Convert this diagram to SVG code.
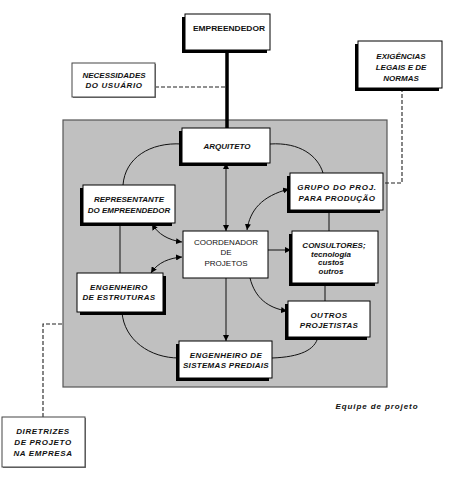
<svg xmlns="http://www.w3.org/2000/svg" width="455" height="478" viewBox="0 0 455 478">
<defs>
<style>
.bx{fill:#fff;stroke:#000;stroke-width:1}
.sh{fill:#000}
.lt{fill:#fff;stroke:#444;stroke-width:1}
.t{font-family:"Liberation Sans",Arial,sans-serif;font-weight:bold;font-style:italic;font-size:8px;fill:#111;text-anchor:middle}
.r{font-family:"Liberation Sans",Arial,sans-serif;font-size:8px;fill:#111;text-anchor:middle}
.ln{fill:none;stroke:#111;stroke-width:1}
.ds{fill:none;stroke:#222;stroke-width:1.1;stroke-dasharray:4,2}
</style>
<marker id="ah" markerWidth="6" markerHeight="6" refX="6" refY="3" orient="auto-start-reverse" markerUnits="userSpaceOnUse">
<path d="M0,0 L6,3 L0,6 z" fill="#000"/>
</marker>
</defs>
<rect width="455" height="478" fill="#fff"/>
<rect x="63" y="120" width="324" height="267" fill="#c0c0c0" stroke="#555" stroke-width="1.2"/>

<g id="connectors">
<path d="M227,50 V128" stroke="#000" stroke-width="3.5" fill="none"/>
<path class="ds" d="M155,87 H225"/>
<path class="ds" d="M402,88 V183 H385"/>
<path class="ds" d="M43,417 V324 H63"/>
<path class="ln" d="M226,163 V231" marker-start="url(#ah)" marker-end="url(#ah)"/>
<path class="ln" d="M182,144 C150,142 125,158 123,185"/>
<path class="ln" d="M270,144 C300,142 318,156 323,173"/>
<path class="ln" d="M120,223 V273"/>
<path class="ln" d="M122,312 C124,340 150,358 179,358"/>
<path class="ln" d="M272,358 C300,357 315,350 318,337"/>
<path class="ln" d="M325,283 V301"/>
<path class="ln" d="M329,210 V231"/>
<path class="ln" d="M226,278 V341" marker-end="url(#ah)"/>
<path class="ln" d="M268,250 H291" marker-end="url(#ah)"/>
<path class="ln" d="M250,278 C255,298 268,308 287,311" marker-end="url(#ah)"/>
<path class="ln" d="M247,230 C250,210 262,196 289,189" marker-start="url(#ah)" marker-end="url(#ah)"/>
<path class="ln" d="M152,224 C158,234 168,240 182,242" marker-start="url(#ah)" marker-end="url(#ah)"/>
<path class="ln" d="M182,257 C170,258 158,262 151,273" marker-start="url(#ah)" marker-end="url(#ah)"/>
</g>

<g id="empreendedor">
<rect class="sh" x="182" y="17" width="85" height="36"/>
<rect class="bx" x="185" y="14" width="85" height="36"/>
<text class="r" x="229" y="31" font-size="10" font-weight="bold" textLength="72" lengthAdjust="spacingAndGlyphs">EMPREENDEDOR</text>
</g>

<g id="necessidades">
<rect x="73" y="64" width="83" height="34" fill="#777"/>
<rect class="lt" x="72" y="63" width="83" height="34"/>
<text class="t" x="114" y="78">NECESSIDADES</text>
<text class="t" x="114" y="88" letter-spacing="0.6">DO USUÁRIO</text>
</g>

<g id="exigencias">
<rect class="sh" x="355" y="44" width="84" height="47"/>
<rect class="bx" x="358" y="41" width="84" height="47"/>
<text class="t" x="401" y="59" font-size="9.5">EXIGÊNCIAS</text>
<text class="t" x="401" y="70" font-size="9.5">LEGAIS E DE</text>
<text class="t" x="401" y="81" font-size="9.5">NORMAS</text>
</g>

<g id="arquiteto">
<rect class="sh" x="179" y="131" width="88" height="35"/>
<rect class="bx" x="182" y="128" width="88" height="35"/>
<text class="t" x="227" y="149">ARQUITETO</text>
</g>

<g id="grupo">
<rect class="sh" x="287" y="176" width="93" height="37"/>
<rect class="bx" x="290" y="173" width="93" height="37"/>
<text class="t" x="337" y="190" letter-spacing="0.7">GRUPO DO PROJ.</text>
<text class="t" x="337" y="201" letter-spacing="0.5">PARA PRODUÇÃO</text>
</g>

<g id="representante">
<rect class="sh" x="80" y="188" width="92" height="38"/>
<rect class="bx" x="83" y="185" width="92" height="38"/>
<text class="t" x="129" y="202">REPRESENTANTE</text>
<text class="t" x="129" y="213">DO EMPREENDEDOR</text>
</g>

<g id="coordenador">
<rect class="bx" x="183" y="231" width="85" height="47"/>
<text class="r" x="226" y="245" font-size="8">COORDENADOR</text>
<text class="r" x="226" y="255" font-size="9.5">DE</text>
<text class="r" x="226" y="266" font-size="9">PROJETOS</text>
</g>

<g id="consultores">
<rect class="sh" x="289" y="234" width="86" height="52"/>
<rect class="bx" x="292" y="231" width="86" height="52"/>
<text class="t" x="334" y="248" font-size="8.5">CONSULTORES;</text>
<text class="t" x="331" y="257" font-size="8.5">tecnologia</text>
<text class="t" x="331" y="265" font-size="8.5">custos</text>
<text class="t" x="331" y="274" font-size="8.5">outros</text>
</g>

<g id="estruturas">
<rect class="sh" x="80" y="276" width="86" height="39"/>
<rect class="bx" x="77" y="273" width="86" height="39"/>
<text class="t" x="119" y="290" letter-spacing="0.4">ENGENHEIRO</text>
<text class="t" x="119" y="300" letter-spacing="0.4">DE ESTRUTURAS</text>
</g>

<g id="outros">
<rect class="sh" x="285" y="304" width="82" height="36"/>
<rect class="bx" x="288" y="301" width="82" height="36"/>
<text class="t" x="329" y="318" letter-spacing="0.5">OUTROS</text>
<text class="t" x="329" y="328" letter-spacing="0.3">PROJETISTAS</text>
</g>

<g id="sistemas">
<rect class="sh" x="176" y="344" width="93" height="37"/>
<rect class="bx" x="179" y="341" width="93" height="37"/>
<text class="t" x="226" y="358" letter-spacing="0.4">ENGENHEIRO DE</text>
<text class="t" x="226" y="368" letter-spacing="0.3">SISTEMAS PREDIAIS</text>
</g>

<text class="t" x="377" y="409" font-size="11.5" letter-spacing="0.9">Equipe de projeto</text>

<g id="diretrizes">
<rect x="3" y="418" width="83" height="50" fill="#777"/>
<rect class="lt" x="2" y="417" width="83" height="50"/>
<text class="t" x="43" y="434" font-size="8.5" letter-spacing="0.6">DIRETRIZES</text>
<text class="t" x="43" y="445" font-size="8.5" letter-spacing="0.6">DE PROJETO</text>
<text class="t" x="43" y="456" font-size="8.5" letter-spacing="0.6">NA EMPRESA</text>
</g>
</svg>
